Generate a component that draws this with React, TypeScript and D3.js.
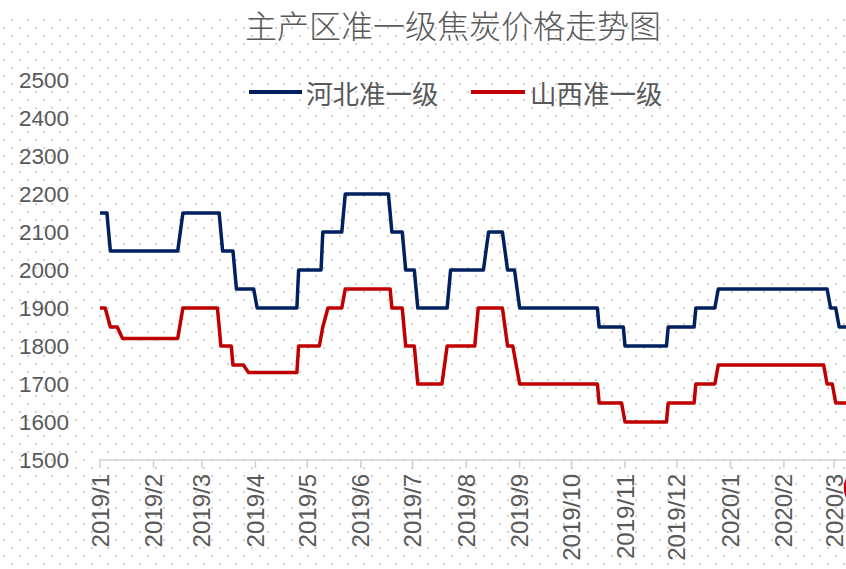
import React from "react";
import * as d3 from "d3";

const title = "主产区准一级焦炭价格走势图";
const seriesNames = ["河北准一级", "山西准一级"];
const seriesColors = ["#002060", "#C00000"];

// Breakpoints of the step-like price series (date, price)
const hebeiDates = [
  "2019-01-01", "2019-01-05", "2019-01-07", "2019-02-15", "2019-02-18",
  "2019-03-11", "2019-03-13", "2019-03-19", "2019-03-21", "2019-03-31",
  "2019-04-02", "2019-04-25", "2019-04-26", "2019-05-09", "2019-05-10",
  "2019-05-21", "2019-05-23", "2019-06-17", "2019-06-19", "2019-06-25",
  "2019-06-27", "2019-07-02", "2019-07-04", "2019-07-21", "2019-07-23",
  "2019-08-11", "2019-08-14", "2019-08-22", "2019-08-25", "2019-08-29",
  "2019-09-01", "2019-10-16", "2019-10-17", "2019-10-31", "2019-11-01",
  "2019-11-25", "2019-11-26", "2019-12-11", "2019-12-12", "2019-12-23",
  "2019-12-25", "2020-02-26", "2020-02-28", "2020-03-02", "2020-03-04",
  "2020-03-15",
];
const hebeiValues = [
  2150, 2150, 2050, 2050, 2150,
  2150, 2050, 2050, 1950, 1950,
  1900, 1900, 2000, 2000, 2100,
  2100, 2200, 2200, 2100, 2100,
  2000, 2000, 1900, 1900, 2000,
  2000, 2100, 2100, 2000, 2000,
  1900, 1900, 1850, 1850, 1800,
  1800, 1850, 1850, 1900, 1900,
  1950, 1950, 1900, 1900, 1850,
  1850,
];

const shanxiDates = [
  "2019-01-01", "2019-01-04", "2019-01-07", "2019-01-11", "2019-01-14",
  "2019-02-15", "2019-02-18", "2019-03-10", "2019-03-12", "2019-03-18",
  "2019-03-19", "2019-03-25", "2019-03-28", "2019-04-25", "2019-04-26",
  "2019-05-08", "2019-05-10", "2019-05-13", "2019-05-21", "2019-05-23",
  "2019-06-18", "2019-06-19", "2019-06-25", "2019-06-27", "2019-07-02",
  "2019-07-04", "2019-07-18", "2019-07-21", "2019-08-06", "2019-08-08",
  "2019-08-22", "2019-08-25", "2019-08-28", "2019-09-01", "2019-10-16",
  "2019-10-17", "2019-10-30", "2019-11-01", "2019-11-25", "2019-11-26",
  "2019-12-11", "2019-12-12", "2019-12-23", "2019-12-25", "2020-02-24",
  "2020-02-26", "2020-02-29", "2020-03-02", "2020-03-15",
];
const shanxiValues = [
  1900, 1900, 1850, 1850, 1820,
  1820, 1900, 1900, 1800, 1800,
  1750, 1750, 1730, 1730, 1800,
  1800, 1850, 1900, 1900, 1950,
  1950, 1900, 1900, 1800, 1800,
  1700, 1700, 1800, 1800, 1900,
  1900, 1800, 1800, 1700, 1700,
  1650, 1650, 1600, 1600, 1650,
  1650, 1700, 1700, 1750, 1750,
  1700, 1700, 1650, 1650,
];

const yTicks = [1500, 1600, 1700, 1800, 1900, 2000, 2100, 2200, 2300, 2400, 2500];

const W = 846;
const H = 569;

const parse = (s: string) => {
  const [y, m, d] = s.split("-").map(Number);
  return new Date(Date.UTC(y, m - 1, d));
};

export default function App() {
  const x = d3
    .scaleUtc()
    .domain([parse("2019-01-01"), parse("2020-03-01")])
    .range([100, 834]);
  const y = d3.scaleLinear().domain([1500, 2500]).range([460, 80]);

  const months = d3.utcMonth.range(parse("2019-01-01"), parse("2020-03-02"));
  const fmt = d3.utcFormat("%Y/%-m");

  const series = [
    hebeiDates.map((d, i) => ({ date: parse(d), value: hebeiValues[i] })),
    shanxiDates.map((d, i) => ({ date: parse(d), value: shanxiValues[i] })),
  ];
  const line = d3
    .line<{ date: Date; value: number }>()
    .x((d) => x(d.date))
    .y((d) => y(d.value));

  const legendItems = [
    { x1: 249, x2: 302, tx: 306 },
    { x1: 471, x2: 525, tx: 530 },
  ];

  return (
    <svg
      width={W}
      height={H}
      style={{ position: "absolute", left: 0, top: 0, display: "block", background: "#fff" }}
    >
      <defs>
        <pattern id="dots" patternUnits="userSpaceOnUse" width={16} height={16}>
          <rect x={11} y={3} width={2} height={2} fill="#d2d2d2" />
          <rect x={3} y={11} width={2} height={2} fill="#d2d2d2" />
        </pattern>
      </defs>
      <rect x={0} y={0} width={W} height={H} fill="#fff" />
      <rect x={0} y={17} width={W} height={H - 17} fill="url(#dots)" />

      <text
        x={453}
        y={38}
        textAnchor="middle"
        fontFamily="'Noto Sans CJK SC', sans-serif"
        fontWeight={300}
        fontSize={32}
        fill="#595959"
      >
        {title}
      </text>

      {legendItems.map((l, i) => (
        <g key={i}>
          <line x1={l.x1} x2={l.x2} y1={92} y2={92} stroke={seriesColors[i]} strokeWidth={4} />
          <text
            x={l.tx}
            y={92}
            dominantBaseline="central"
            fontFamily="'Noto Sans CJK SC', sans-serif"
            fontSize={26.5}
            fill="#595959"
          >
            {seriesNames[i]}
          </text>
        </g>
      ))}

      {yTicks.map((t) => (
        <text
          key={t}
          x={69}
          y={y(t)}
          textAnchor="end"
          dominantBaseline="central"
          fontFamily="'Liberation Sans', Arial, sans-serif"
          fontSize={22.5}
          fill="#595959"
        >
          {t}
        </text>
      ))}

      <line x1={100} x2={W} y1={460} y2={460} stroke="#d0d0d0" strokeWidth={1.5} />
      {months.map((m, i) => (
        <g key={i} transform={`translate(${x(m)},0)`}>
          <line x1={0} x2={0} y1={460} y2={468} stroke="#d0d0d0" strokeWidth={1.5} />
          <text
            transform="translate(0,474) rotate(-90)"
            textAnchor="end"
            dominantBaseline="central"
            fontFamily="'Liberation Sans', Arial, sans-serif"
            fontSize={24}
            fill="#595959"
          >
            {fmt(m)}
          </text>
        </g>
      ))}

      {series.map((s, i) => (
        <path
          key={i}
          d={line(s) || ""}
          fill="none"
          stroke={seriesColors[i]}
          strokeWidth={3.5}
          strokeLinejoin="round"
        />
      ))}

      <ellipse cx={866} cy={488} rx={21} ry={21} fill="none" stroke="#C00000" strokeWidth={2.5} />
    </svg>
  );
}
